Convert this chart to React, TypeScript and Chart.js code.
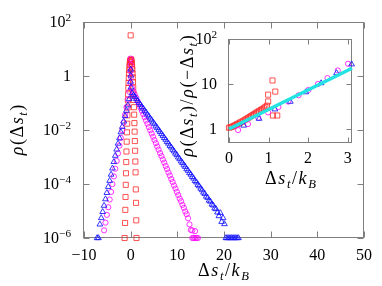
import React, { useEffect, useRef } from "react";
import { Chart, registerables } from "chart.js";

Chart.register(...registerables);

const FONT = "'Liberation Serif', 'DejaVu Serif', serif";

// ---------- main panel ticks ----------
const mainXTicks = [-10, 0, 10, 20, 30, 40, 50];
const mainXTickLabels = ["\u221210", "0", "10", "20", "30", "40", "50"];
const mainYTicks = [1e-6, 1e-4, 1e-2, 1, 1e2];
const mainYTickBase = ["10", "10", "10", "1", "10"];
const mainYTickExp = ["\u22126", "\u22124", "\u22122", "", "2"];

// ---------- inset ticks ----------
const insetXTicks = [0, 1, 2, 3];
const insetXTickLabels = ["0", "1", "2", "3"];
const insetYTicks = [1, 10, 100];
const insetYTickBase = ["1", "10", "10"];
const insetYTickExp = ["", "", "2"];

// ---------- main panel data: [Δs_t/k_B, ρ(Δs_t)] ----------
const redSquares: [number, number][] = [
  [0, 32],
  [-0.05, 3.9], [-0.1, 3.6], [-0.15, 3.2], [-0.2, 2.7], [-0.25, 2.2], [-0.3, 1.65],
  [-0.35, 1.25], [-0.4, 0.85], [-0.45, 0.56], [-0.5, 0.36], [-0.55, 0.21], [-0.6, 0.125],
  [-0.65, 0.068], [-0.7, 0.035], [-0.75, 0.0172], [-0.8, 0.0082], [-0.85, 0.0037],
  [-0.9, 0.0016], [-0.95, 6.5e-4], [-1.0, 2.5e-4], [-1.05, 9.3e-5], [-1.1, 3.3e-5],
  [-1.15, 1.1e-5], [-1.2, 3.6e-6], [-1.3, 1e-6],
  [0.05, 4.1], [0.1, 4.0], [0.15, 3.8], [0.2, 3.3], [0.25, 2.8], [0.3, 2.25], [0.35, 1.75],
  [0.4, 1.25], [0.45, 0.89], [0.5, 0.59], [0.55, 0.37], [0.6, 0.22], [0.65, 0.13],
  [0.7, 0.07], [0.75, 0.037], [0.8, 0.018], [0.85, 0.0087], [0.9, 0.0039], [0.95, 0.0017],
  [1.0, 6.8e-4], [1.05, 2.7e-4], [1.1, 6.3e-5], [1.15, 2.0e-5], [1.2, 4.5e-6], [1.25, 1e-6],
];

const magentaCircles: [number, number][] = [
  [0, 4.4], [0.03, 2.6], [-0.03, 1.5], [0.06, 0.9], [-0.06, 0.55],
  [0.3, 0.355], [0.6, 0.27], [0.9, 0.202], [1.2, 0.156], [1.5, 0.116], [1.8, 0.0895],
  [2.1, 0.067], [2.4, 0.0516], [2.7, 0.0386], [3.0, 0.0297], [3.3, 0.0222], [3.6, 0.0171],
  [3.9, 0.0128], [4.2, 0.0098], [4.5, 0.0074], [4.8, 0.00565], [5.1, 0.00425], [5.4, 0.00326],
  [5.7, 0.00244], [6.0, 0.00187], [6.3, 0.0014], [6.6, 0.00108], [6.9, 8.1e-4], [7.2, 6.2e-4],
  [7.5, 4.65e-4], [7.8, 3.57e-4], [8.1, 2.67e-4], [8.4, 2.06e-4], [8.7, 1.53e-4], [9.0, 1.18e-4],
  [9.3, 8.8e-5], [9.6, 6.8e-5], [9.9, 5.1e-5], [10.2, 3.9e-5], [10.5, 2.9e-5], [10.8, 2.3e-5],
  [11.1, 1.68e-5], [11.4, 1.31e-5], [11.7, 9.6e-6], [12.0, 7.6e-6], [12.3, 5.4e-6],
  [12.6, 3.2e-6], [12.9, 2.0e-6], [13.2, 1.9e-6], [13.8, 1.8e-6],
  [13.2, 1e-6], [13.5, 1e-6], [13.8, 1e-6], [14.1, 1e-6], [14.4, 1e-6],
  [-0.3, 0.26], [-0.6, 0.135], [-0.9, 0.07], [-1.2, 0.0363], [-1.5, 0.0188], [-1.8, 0.0098],
  [-2.1, 0.0051], [-2.4, 0.00263], [-2.7, 0.00136], [-3.0, 7.1e-4], [-3.3, 3.67e-4],
  [-3.6, 1.91e-4], [-3.9, 9.9e-5], [-4.2, 5.1e-5], [-4.5, 2.66e-5], [-4.8, 1.38e-5],
  [-5.1, 7.2e-6], [-5.4, 3.7e-6], [-5.7, 1.93e-6],
];

const blueTriangles: [number, number][] = [
  [0, 1.75], [0.03, 1.05], [-0.03, 0.62], [0.06, 0.38],
  [0.3, 0.235], [0.6, 0.196], [0.9, 0.168], [1.2, 0.141], [1.5, 0.121], [1.8, 0.101],
  [2.1, 0.0868], [2.4, 0.0726], [2.7, 0.0622], [3.0, 0.0521], [3.3, 0.0448], [3.6, 0.0374],
  [3.9, 0.0321], [4.2, 0.0268], [4.5, 0.0231], [4.8, 0.0192], [5.1, 0.0166], [5.4, 0.0137],
  [5.7, 0.0119], [6.0, 0.0099], [6.3, 0.00852], [6.6, 0.00712], [6.9, 0.00612], [7.2, 0.00511],
  [7.5, 0.00441], [7.8, 0.00366], [8.1, 0.00316], [8.4, 0.00262], [8.7, 0.00228], [9.0, 0.00188],
  [9.3, 0.00163], [9.6, 0.00135], [9.9, 0.00118], [10.2, 9.7e-4], [10.5, 8.4e-4], [10.8, 6.95e-4],
  [11.1, 6.05e-4], [11.4, 5.0e-4], [11.7, 4.35e-4], [12.0, 3.58e-4], [12.3, 3.12e-4],
  [12.6, 2.57e-4], [12.9, 2.24e-4], [13.2, 1.84e-4], [13.5, 1.61e-4], [13.8, 1.31e-4],
  [14.1, 1.16e-4], [14.4, 9.4e-5], [14.7, 8.3e-5], [15.0, 6.8e-5], [15.3, 5.95e-5],
  [15.6, 4.85e-5], [15.9, 4.3e-5], [16.2, 3.45e-5], [16.5, 3.1e-5], [16.8, 2.45e-5],
  [17.1, 2.25e-5], [17.4, 1.75e-5], [17.7, 1.62e-5], [18.0, 1.25e-5], [18.3, 1.18e-5],
  [18.6, 8.9e-6], [18.9, 6.5e-6], [19.2, 8.5e-6], [19.5, 4.0e-6], [19.8, 5.5e-6], [20.1, 3.3e-6],
  [20.4, 1e-6], [20.7, 1e-6], [21.0, 1e-6], [21.3, 1e-6], [21.6, 1e-6], [21.9, 1e-6],
  [22.2, 1e-6], [22.5, 1e-6], [22.8, 1e-6], [23.1, 1e-6],
  [-0.3, 0.141], [-0.6, 0.083], [-0.9, 0.0525], [-1.2, 0.0331], [-1.5, 0.0209], [-1.8, 0.0132],
  [-2.1, 0.00832], [-2.4, 0.00501], [-2.7, 0.00316], [-3.0, 0.00191], [-3.3, 0.00112],
  [-3.6, 6.6e-4], [-3.9, 3.8e-4], [-4.2, 2.24e-4], [-4.5, 1.32e-4], [-4.8, 7.9e-5],
  [-5.1, 4.7e-5], [-5.4, 2.75e-5], [-5.7, 1.58e-5], [-6.0, 9.3e-6], [-6.3, 5.5e-6],
  [-6.6, 3.2e-6], [-6.9, 1e-6], [-7.2, 1e-6],
];

// ---------- inset data: [Δs_t/k_B, ρ(Δs_t)/ρ(−Δs_t)] ----------
const insetRed: [number, number][] = [
  [0, 1.07], [0.04, 1.1], [0.08, 1.13], [0.12, 1.18], [0.16, 1.22], [0.2, 1.28], [0.24, 1.33],
  [0.28, 1.4], [0.32, 1.45], [0.36, 1.52], [0.4, 1.6], [0.44, 1.68], [0.48, 1.75], [0.52, 1.85],
  [0.56, 1.95], [0.6, 2.05], [0.64, 2.15], [0.68, 2.28], [0.72, 2.4], [0.76, 2.5], [0.8, 2.65],
  [0.84, 2.75], [0.88, 2.9], [0.92, 3.1], [0.96, 3.3],
  [0.99, 5.8], [0.99, 4.1], [1.1, 12.0], [1.17, 6.8], [1.11, 2.0], [1.22, 2.0],
];
const insetMagenta: [number, number][] = [
  [0.23, 0.95], [0.48, 1.29], [0.74, 1.78], [0.99, 2.34], [1.25, 3.09], [1.5, 4.07],
  [1.76, 5.62], [2.01, 7.41], [2.25, 10.0], [2.49, 13.5], [2.75, 20.0], [3.01, 28.2],
];
const insetBlue: [number, number][] = [
  [0.37, 1.2], [0.76, 1.7], [1.16, 2.75], [1.55, 4.07], [1.94, 6.6], [2.33, 10.5],
  [2.72, 17.6], [3.1, 27.5],
];
const fitLine: [number, number][] = [[0, 1], [3.11, 22.4]];

const RED = "rgba(255,40,40,0.8)";
const MAGENTA = "rgba(255,0,255,0.8)";
const BLUE = "rgba(20,20,255,0.85)";
const CYAN = "#22e2e2";
const FRAME = "#7f7f7f";

type Seg = { t: string; i?: boolean; p?: "sub" | "sup" };

function drawRich(
  ctx: CanvasRenderingContext2D,
  segs: Seg[],
  x: number,
  y: number,
  size: number,
  align: "center" | "right" | "left",
  rotate = false,
  gap = 0
) {
  const fontFor = (s: Seg) =>
    `${s.i ? "italic " : ""}${s.p ? size * 0.7 : size}px ${FONT}`;
  let total = 0;
  const widths = segs.map((s) => {
    ctx.font = fontFor(s);
    const w = ctx.measureText(s.t).width;
    total += w;
    return w;
  });
  total += gap * (segs.length - 1);
  const off = size * 0.33;
  ctx.save();
  if (rotate) {
    ctx.translate(x + off, y);
    ctx.rotate(-Math.PI / 2);
  } else {
    ctx.translate(x, y + off);
  }
  let cx = align === "center" ? -total / 2 : align === "right" ? -total : 0;
  ctx.textAlign = "left";
  ctx.textBaseline = "alphabetic";
  ctx.fillStyle = "#000";
  segs.forEach((s, k) => {
    ctx.font = fontFor(s);
    const dy = s.p === "sub" ? size * 0.22 : s.p === "sup" ? -size * 0.42 : 0;
    ctx.fillText(s.t, cx, dy);
    cx += widths[k] + gap;
  });
  ctx.restore();
}

const dsTitle: Seg[] = [
  { t: "\u0394" }, { t: "s", i: true }, { t: "t", i: true, p: "sub" },
  { t: "/" }, { t: "k", i: true }, { t: "B", i: true, p: "sub" },
];
const rhoTitle: Seg[] = [
  { t: "\u03c1", i: true }, { t: "(" }, { t: "\u0394" }, { t: "s", i: true },
  { t: "t", i: true, p: "sub" }, { t: ")" },
];
const ratioTitle: Seg[] = [
  { t: "\u03c1", i: true }, { t: "(" }, { t: "\u0394" }, { t: "s", i: true },
  { t: "t", i: true, p: "sub" }, { t: ")" }, { t: "/" },
  { t: "\u03c1", i: true }, { t: "(" }, { t: "\u2212" }, { t: "\u0394" }, { t: "s", i: true },
  { t: "t", i: true, p: "sub" }, { t: ")" },
];

interface AxisCfg {
  xTicks: number[];
  xLabels: string[];
  yTicks: number[];
  yBase: string[];
  yExp: string[];
  tickLen: number;
  size: number;
  titleSize: number;
  titleGap: number;
  xLabelY: number;
  yLabelRight: number;
  xTitle: { segs: Seg[]; x: number; y: number };
  yTitle: { segs: Seg[]; x: number; y: number };
}

function framePlugin(cfg: AxisCfg) {
  return {
    id: "frameTicks",
    beforeDatasetsDraw(chart: any) {
      const { ctx, chartArea: a, scales } = chart;
      const xs = scales.x;
      const ys = scales.y;
      ctx.save();
      ctx.strokeStyle = FRAME;
      ctx.lineWidth = 1;
      const L = Math.round(a.left) - 0.5;
      const R = Math.round(a.right) - 0.5;
      const T = Math.round(a.top) + 0.5;
      const B = Math.round(a.bottom) - 0.5;
      ctx.strokeRect(L, T, R - L, B - T);
      ctx.beginPath();
      cfg.xTicks.forEach((v) => {
        const px = Math.round(xs.getPixelForValue(v)) + 0.5;
        ctx.moveTo(px, B);
        ctx.lineTo(px, B - cfg.tickLen);
        ctx.moveTo(px, T);
        ctx.lineTo(px, T + cfg.tickLen);
      });
      cfg.yTicks.forEach((v) => {
        const py = Math.round(ys.getPixelForValue(v)) + 0.5;
        ctx.moveTo(L, py);
        ctx.lineTo(L + cfg.tickLen, py);
        ctx.moveTo(R, py);
        ctx.lineTo(R - cfg.tickLen, py);
      });
      ctx.stroke();
      ctx.restore();
    },
    afterDraw(chart: any) {
      const { ctx, scales } = chart;
      const xs = scales.x;
      const ys = scales.y;
      cfg.xTicks.forEach((v, k) => {
        drawRich(ctx, [{ t: cfg.xLabels[k] }], xs.getPixelForValue(v), cfg.xLabelY, cfg.size, "center");
      });
      cfg.yTicks.forEach((v, k) => {
        const segs: Seg[] = [{ t: cfg.yBase[k] }];
        if (cfg.yExp[k]) segs.push({ t: cfg.yExp[k], p: "sup" });
        drawRich(ctx, segs, cfg.yLabelRight, ys.getPixelForValue(v), cfg.size, "right");
      });
      drawRich(ctx, cfg.xTitle.segs, cfg.xTitle.x, cfg.xTitle.y, cfg.titleSize, "center", false, cfg.titleGap);
      drawRich(ctx, cfg.yTitle.segs, cfg.yTitle.x, cfg.yTitle.y, cfg.titleSize, "center", true, cfg.titleGap);
    },
  };
}

function pts(arr: [number, number][]) {
  return arr.map(([x, y]) => ({ x, y }));
}

export default function App() {
  const mainRef = useRef<HTMLCanvasElement>(null);
  const insetRef = useRef<HTMLCanvasElement>(null);

  useEffect(() => {
    const marker = (data: [number, number][], color: string, style: string, r: number) => ({
      data: pts(data),
      showLine: false,
      pointStyle: style,
      pointRadius: r,
      pointBorderColor: color,
      pointBackgroundColor: "rgba(0,0,0,0)",
      pointBorderWidth: 1,
      borderColor: color,
      backgroundColor: "rgba(0,0,0,0)",
      clip: false,
    });

    const main = new Chart(mainRef.current!, {
      type: "scatter",
      data: {
        datasets: [
          marker(blueTriangles, BLUE, "triangle", 3.3),
          marker(magentaCircles, MAGENTA, "circle", 2.6),
          marker(redSquares, RED, "rect", 3.6),
        ] as any,
      },
      options: {
        responsive: false,
        animation: false,
        events: [],
        layout: { padding: { left: 84, right: 18, top: 22, bottom: 48 } },
        plugins: { legend: { display: false }, tooltip: { enabled: false } },
        scales: {
          x: { type: "linear", min: -10, max: 50, display: false },
          y: { type: "logarithmic", min: 1e-6, max: 1e2, display: false },
        },
      },
      plugins: [
        framePlugin({
          xTicks: mainXTicks,
          xLabels: mainXTickLabels,
          yTicks: mainYTicks,
          yBase: mainYTickBase,
          yExp: mainYTickExp,
          tickLen: 6,
          size: 16,
          titleSize: 18,
          titleGap: 1.6,
          xLabelY: 255,
          yLabelRight: 71,
          xTitle: { segs: dsTitle, x: 223.5, y: 270 },
          yTitle: { segs: rhoTitle, x: 17, y: 130 },
        }),
      ],
    });

    // inset canvas at (170, 20), size 200 x 175
    const inset = new Chart(insetRef.current!, {
      type: "scatter",
      data: {
        datasets: [
          {
            data: pts(fitLine),
            showLine: true,
            borderColor: CYAN,
            borderWidth: 3.5,
            pointRadius: 0,
            clip: false,
          },
          marker(insetBlue, BLUE, "triangle", 3.3),
          marker(insetMagenta, MAGENTA, "circle", 2.6),
          marker(insetRed, RED, "rect", 3.6),
        ] as any,
      },
      options: {
        responsive: false,
        animation: false,
        events: [],
        layout: { padding: { left: 59, right: 18, top: 19, bottom: 52 } },
        plugins: { legend: { display: false }, tooltip: { enabled: false } },
        scales: {
          x: { type: "linear", min: 0, max: 3.11, display: false },
          y: { type: "logarithmic", min: 0.49, max: 100, display: false },
        },
      },
      plugins: [
        framePlugin({
          xTicks: insetXTicks,
          xLabels: insetXTickLabels,
          yTicks: insetYTicks,
          yBase: insetYTickBase,
          yExp: insetYTickExp,
          tickLen: 5,
          size: 16,
          titleSize: 18,
          titleGap: 1.6,
          xLabelY: 138,
          yLabelRight: 47,
          xTitle: { segs: dsTitle, x: 120.5, y: 158 },
          yTitle: { segs: ratioTitle, x: 17, y: 76 },
        }),
      ],
    });

    return () => {
      main.destroy();
      inset.destroy();
    };
  }, []);

  return (
    <div style={{ position: "fixed", left: 0, top: 0, width: 382, height: 286, background: "#fff" }}>
      <canvas
        ref={mainRef}
        width={382}
        height={286}
        style={{ position: "absolute", left: 0, top: 0, width: 382, height: 286 }}
      />
      <canvas
        ref={insetRef}
        width={200}
        height={175}
        style={{ position: "absolute", left: 170, top: 20, width: 200, height: 175 }}
      />
    </div>
  );
}
